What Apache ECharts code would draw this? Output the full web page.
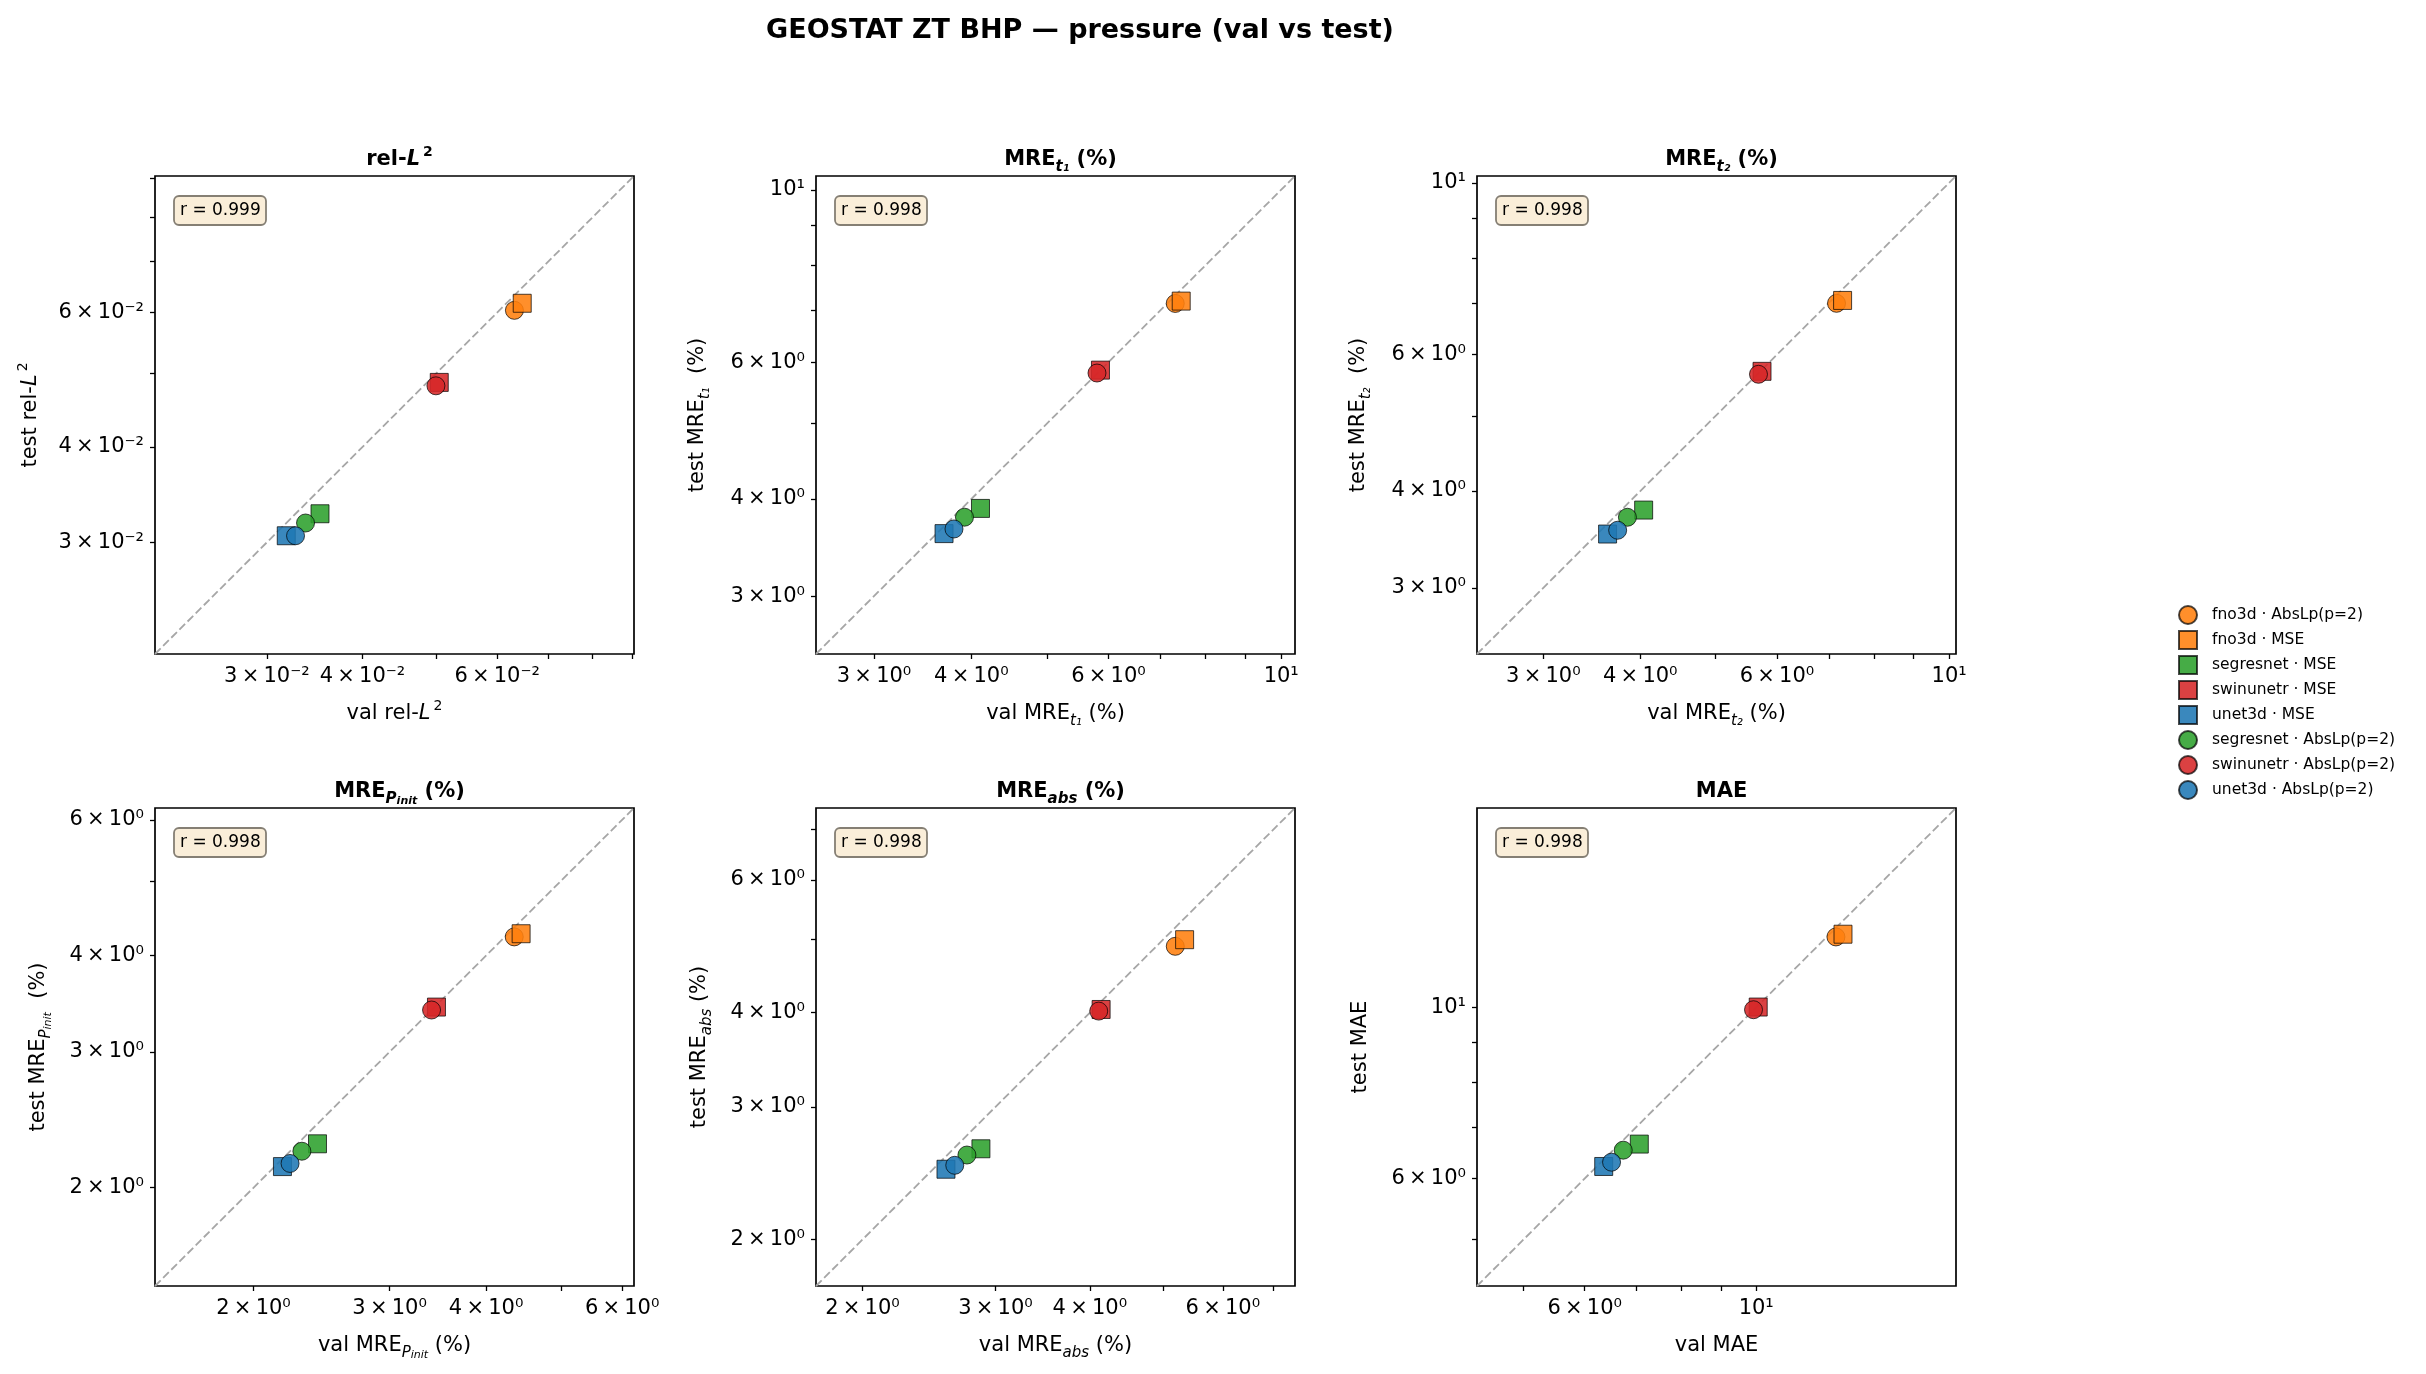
<!DOCTYPE html>
<html>
<head>
<meta charset="utf-8">
<script src="https://cdn.jsdelivr.net/npm/echarts@6/dist/echarts.min.js"></script>
<style>
html,body{margin:0;padding:0;background:#fff}
#chart{width:2426px;height:1374px}
</style>
</head>
<body>
<div id="chart"></div>
<script>
// runs in legend (= plotting) order
var runs = ['fno3d · AbsLp(p=2)', 'fno3d · MSE', 'segresnet · MSE', 'swinunetr · MSE',
            'unet3d · MSE', 'segresnet · AbsLp(p=2)', 'swinunetr · AbsLp(p=2)', 'unet3d · AbsLp(p=2)'];
var runColors  = ['#ff7f0e', '#ff7f0e', '#2ca02c', '#d62728', '#1f77b4', '#2ca02c', '#d62728', '#1f77b4'];
var runSymbols = ['circle', 'rect', 'rect', 'rect', 'rect', 'circle', 'circle', 'circle'];

// val / test per metric, same order as runs
var relL2Val   = [0.0632, 0.0647, 0.0352, 0.0504, 0.0318, 0.0337, 0.0499, 0.0327];
var relL2Test  = [0.0604, 0.0617, 0.0327, 0.0486, 0.0306, 0.0318, 0.0481, 0.0306];
var mreT1Val   = [7.31, 7.44, 4.11, 5.86, 3.69, 3.92, 5.80, 3.80];
var mreT1Test  = [7.14, 7.19, 3.89, 5.86, 3.61, 3.79, 5.81, 3.66];
var mreT2Val   = [7.16, 7.29, 4.04, 5.74, 3.63, 3.85, 5.68, 3.74];
var mreT2Test  = [6.99, 7.05, 3.78, 5.71, 3.52, 3.70, 5.66, 3.56];
var mrePVal    = [4.35, 4.44, 2.42, 3.45, 2.18, 2.31, 3.40, 2.23];
var mrePTest   = [4.23, 4.27, 2.28, 3.43, 2.13, 2.23, 3.40, 2.15];
var mreAbsVal  = [5.19, 5.34, 2.87, 4.14, 2.58, 2.75, 4.11, 2.65];
var mreAbsTest = [4.90, 5.00, 2.64, 4.04, 2.48, 2.59, 4.02, 2.51];
var maeVal     = [12.68, 12.95, 7.06, 10.06, 6.35, 6.73, 9.92, 6.50];
var maeTest    = [12.34, 12.44, 6.65, 10.01, 6.22, 6.53, 9.93, 6.30];
var rValues    = ['0.999', '0.998', '0.998', '0.998', '0.998', '0.998'];

// log ticks (all) and the labelled subset
var relL2Ticks  = [0.03, 0.04, 0.05, 0.06, 0.07, 0.08, 0.09];
var relL2Labels = [0.03, 0.04, 0.06];
var mreTTicks   = [3, 4, 5, 6, 7, 8, 9, 10];
var mreTLabels  = [3, 4, 6, 10];
var mrePTicks   = [2, 3, 4, 5, 6];
var mrePLabels  = [2, 3, 4, 6];
var mreAbsTicks = [2, 3, 4, 5, 6, 7];
var mreAbsLabels= [2, 3, 4, 6];
var maeTicks    = [5, 6, 7, 8, 9, 10];
var maeLabels   = [6, 10];

var F = 'DejaVu Sans';
var gridLefts = [155, 816, 1477];
var gridTops = [176, 808];
var gridW = 479, gridH = 478;
var squareIcon = 'path://M0,0L10,0L10,10L0,10Z';

var panels = [
    {title: '{b|rel-}{bi|L}{bsup|2}', x: '{n|val rel-}{i|L}{sup|2}', y: '{n|test rel-}{i|L}{sup|2}',
     val: relL2Val, test: relL2Test, ticks: relL2Ticks, labels: relL2Labels, ygap: 109},
    {title: '{b|MRE}{bsub|t₁}{b| (%)}', x: '{n|val MRE}{sub|t₁}{n| (%)}', y: '{n|test MRE}{sub|t₁}{n|  (%)}',
     val: mreT1Val, test: mreT1Test, ticks: mreTTicks, labels: mreTLabels, ygap: 103},
    {title: '{b|MRE}{bsub|t₂}{b| (%)}', x: '{n|val MRE}{sub|t₂}{n| (%)}', y: '{n|test MRE}{sub|t₂}{n|  (%)}',
     val: mreT2Val, test: mreT2Test, ticks: mreTTicks, labels: mreTLabels, ygap: 103},
    {title: '{b|MRE}{bsub|P}{bsub2|init}{b| (%)}', x: '{n|val MRE}{sub|P}{sub2|init}{n| (%)}', y: '{n|test MRE}{sub|P}{sub2|init}{n|  (%)}',
     val: mrePVal, test: mrePTest, ticks: mrePTicks, labels: mrePLabels, ygap: 101},
    {title: '{b|MRE}{bsub|abs}{b| (%)}', x: '{n|val MRE}{sub|abs}{n| (%)}', y: '{n|test MRE}{sub|abs}{n| (%)}',
     val: mreAbsVal, test: mreAbsTest, ticks: mreAbsTicks, labels: mreAbsLabels, ygap: 101},
    {title: '{b|MAE}', x: '{n|val MAE}', y: '{n|test MAE}',
     val: maeVal, test: maeTest, ticks: maeTicks, labels: maeLabels, ygap: 101}
];

var rich = {
    n:    {fontFamily: F, fontSize: 21, lineHeight: 30, color: '#000'},
    i:    {fontFamily: F, fontSize: 21, lineHeight: 30, fontStyle: 'italic', color: '#000'},
    sup:  {fontFamily: F, fontSize: 14, lineHeight: 12, verticalAlign: 'top', padding: [0, 0, 0, 3], color: '#000'},
    sub:  {fontFamily: F, fontSize: 15, lineHeight: 15, verticalAlign: 'bottom', fontStyle: 'italic', color: '#000'},
    sub2: {fontFamily: F, fontSize: 11, lineHeight: 11, verticalAlign: 'bottom', fontStyle: 'italic', color: '#000'},
    b:    {fontFamily: F, fontSize: 21, lineHeight: 30, fontWeight: 'bold', color: '#000'},
    bi:   {fontFamily: F, fontSize: 21, lineHeight: 30, fontStyle: 'italic', color: '#000'},
    bsup: {fontFamily: F, fontSize: 14, lineHeight: 12, verticalAlign: 'top', padding: [0, 0, 0, 3], color: '#000'},
    bsub: {fontFamily: F, fontSize: 15, lineHeight: 15, verticalAlign: 'bottom', fontStyle: 'italic', color: '#000'},
    bsub2:{fontFamily: F, fontSize: 11, lineHeight: 11, verticalAlign: 'bottom', fontStyle: 'italic', color: '#000'}
};

var supMap = {'-': '⁻', '0': '⁰', '1': '¹', '2': '²', '3': '³', '4': '⁴', '5': '⁵', '6': '⁶', '7': '⁷', '8': '⁸', '9': '⁹'};
function sup(s) {
    return String(s).split('').map(function (c) { return supMap[c]; }).join('');
}
function logLabel(v) {
    var x = Math.pow(10, v);
    var e = Math.floor(Math.log10(x) + 1e-9);
    var m = Math.round(x / Math.pow(10, e));
    if (m === 1) return '10' + sup(e);
    return m + '\u2009×\u200910' + sup(e);
}
function lg(arr) { return arr.map(function (d) { return Math.log10(d); }); }

var grids = [], xAxes = [], yAxes = [], series = [], titles = [];

titles.push({
    text: 'GEOSTAT ZT BHP — pressure (val vs test)',
    left: 1075, textAlign: 'center', top: 12,
    textStyle: {fontFamily: F, fontSize: 27, fontWeight: 'bold', color: '#000'}
});

panels.forEach(function (p, k) {
    var left = gridLefts[k % 3], top = gridTops[Math.floor(k / 3)];
    var all = p.val.concat(p.test);
    // axis limits: 0.7 × smallest, 1.4 × largest value, same on both axes
    var lo = Math.log10(Math.min.apply(null, all) * 0.7);
    var hi = Math.log10(Math.max.apply(null, all) * 1.4);
    var ticks = lg(p.ticks).filter(function (t) { return t >= lo && t <= hi; });
    var labels = lg(p.labels).filter(function (t) { return t >= lo && t <= hi; });

    grids.push({left: left, top: top, width: gridW, height: gridH, show: true,
                borderColor: '#000', borderWidth: 1.7, backgroundColor: 'transparent'});

    var axisCommon = {
        type: 'value', gridIndex: k, min: lo, max: hi,
        splitLine: {show: false}, axisLine: {show: false},
        axisTick: {show: true, length: 5, customValues: ticks, lineStyle: {color: '#000', width: 1.3}},
        nameLocation: 'middle',
        nameTextStyle: {rich: rich}
    };
    xAxes.push(Object.assign({}, axisCommon, {
        name: p.x, nameGap: 45,
        axisLabel: {customValues: labels, formatter: logLabel, margin: 12,
                    fontFamily: F, fontSize: 21, color: '#000'}
    }));
    yAxes.push(Object.assign({}, axisCommon, {
        name: p.y, nameGap: p.ygap, nameRotate: 90,
        axisLabel: {customValues: labels, formatter: logLabel, margin: 11,
                    fontFamily: F, fontSize: 21, color: '#000'}
    }));

    titles.push({
        text: p.title, left: left + gridW / 2, textAlign: 'center', top: top - 36,
        textStyle: {rich: rich}
    });
    titles.push({
        text: 'r = ' + rValues[k], left: left + 19, top: top + 20,
        padding: [5, 6], backgroundColor: '#faeed9', borderColor: '#857f74',
        borderWidth: 1.8, borderRadius: 5,
        textStyle: {fontFamily: F, fontSize: 17, fontWeight: 'normal', color: '#000', lineHeight: 19}
    });

    series.push({
        type: 'line', xAxisIndex: k, yAxisIndex: k, silent: true, symbol: 'none', z: 1,
        data: [[lo, lo], [hi, hi]],
        lineStyle: {color: '#a6a6a6', width: 1.8, type: [8, 3.5]}
    });

    runs.forEach(function (name, j) {
        series.push({
            type: 'scatter', name: name, xAxisIndex: k, yAxisIndex: k, z: 3 + j,
            symbol: runSymbols[j], symbolSize: 18,
            data: [[Math.log10(p.val[j]), Math.log10(p.test[j])]],
            itemStyle: {color: runColors[j], borderColor: 'rgba(0,0,0,0.8)', borderWidth: 1, opacity: 0.88}
        });
    });
});

var chart = echarts.init(document.getElementById('chart'));
chart.setOption({
    animation: false,
    backgroundColor: '#fff',
    title: titles,
    grid: grids,
    xAxis: xAxes,
    yAxis: yAxes,
    legend: {
        data: runs.map(function (name, j) {
            return {name: name, icon: runSymbols[j] === 'rect' ? squareIcon : 'circle'};
        }),
        orient: 'vertical', left: 2173, top: 600,
        itemWidth: 38, itemHeight: 18, itemGap: 5, symbolKeepAspect: true,
        textStyle: {fontFamily: F, fontSize: 15.5, color: '#000'}
    },
    series: series
});
</script>
</body>
</html>
